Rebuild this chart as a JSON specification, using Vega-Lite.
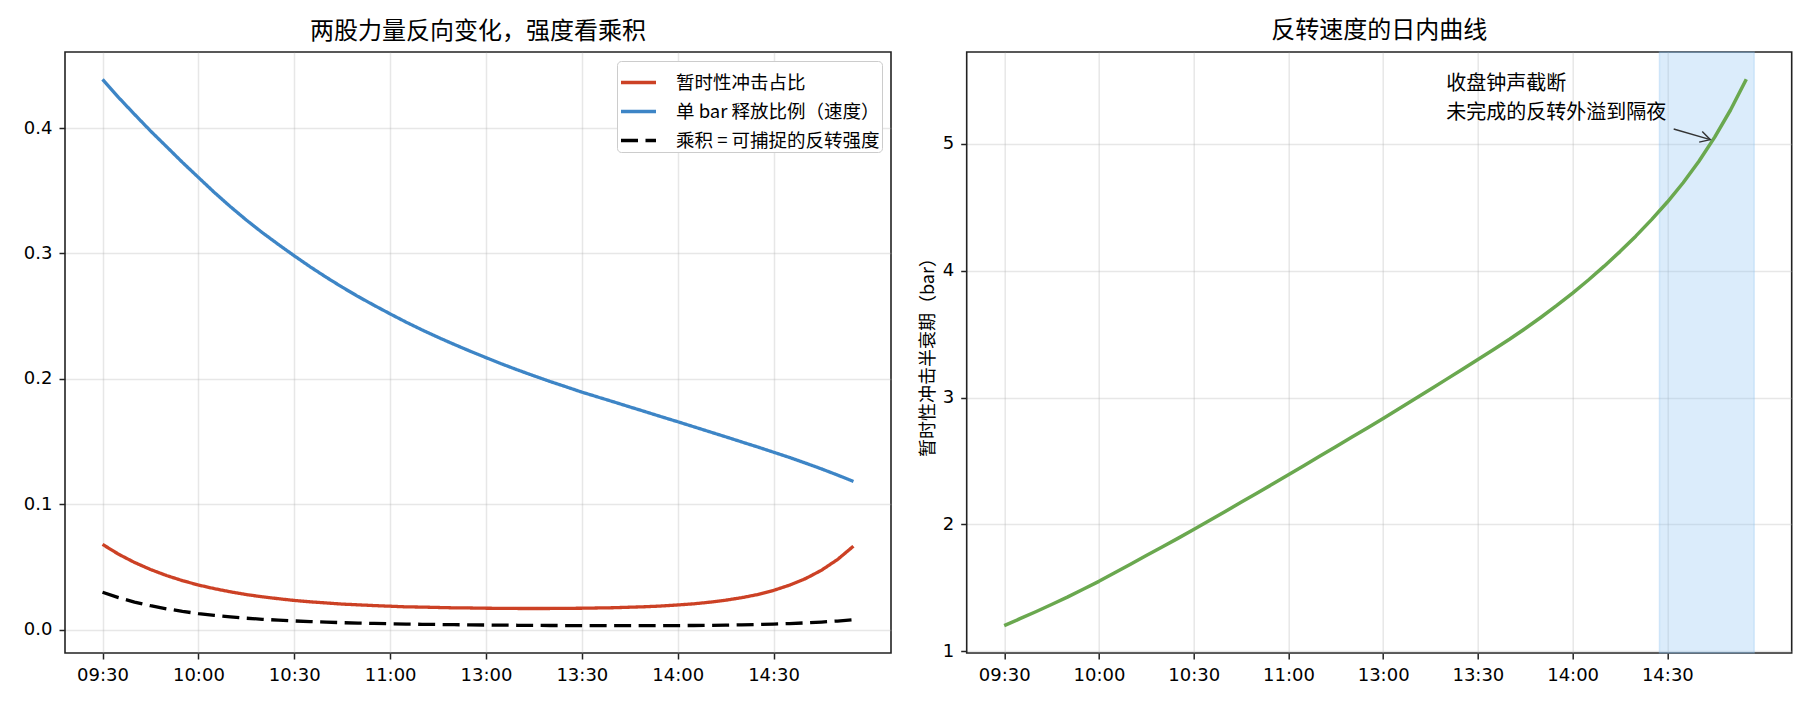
{
  "$schema": "https://vega.github.io/schema/vega-lite/v6.json",
  "background": "white",
  "padding": {"left": 22, "top": 18, "right": 20, "bottom": 10},
  "datasets": {
    "intraday": [
      {"i": 0, "r": 0.0680, "b": 0.4388, "p": 0.02984, "h": 1.200},
      {"i": 1, "r": 0.0602, "b": 0.4244, "p": 0.02555, "h": 1.255},
      {"i": 2, "r": 0.0536, "b": 0.4109, "p": 0.02202, "h": 1.310},
      {"i": 3, "r": 0.0480, "b": 0.3977, "p": 0.01909, "h": 1.367},
      {"i": 4, "r": 0.0432, "b": 0.3852, "p": 0.01664, "h": 1.425},
      {"i": 5, "r": 0.0391, "b": 0.3726, "p": 0.01457, "h": 1.487},
      {"i": 6, "r": 0.0356, "b": 0.3606, "p": 0.01284, "h": 1.550},
      {"i": 7, "r": 0.0327, "b": 0.3486, "p": 0.01140, "h": 1.617},
      {"i": 8, "r": 0.0302, "b": 0.3373, "p": 0.01019, "h": 1.685},
      {"i": 9, "r": 0.0280, "b": 0.3266, "p": 0.00914, "h": 1.753},
      {"i": 10, "r": 0.0262, "b": 0.3166, "p": 0.00829, "h": 1.821},
      {"i": 11, "r": 0.0247, "b": 0.3072, "p": 0.00759, "h": 1.889},
      {"i": 12, "r": 0.0233, "b": 0.2981, "p": 0.00695, "h": 1.958},
      {"i": 13, "r": 0.0222, "b": 0.2893, "p": 0.00642, "h": 2.030},
      {"i": 14, "r": 0.0213, "b": 0.2810, "p": 0.00599, "h": 2.101},
      {"i": 15, "r": 0.0204, "b": 0.2731, "p": 0.00557, "h": 2.173},
      {"i": 16, "r": 0.0198, "b": 0.2656, "p": 0.00526, "h": 2.245},
      {"i": 17, "r": 0.0192, "b": 0.2586, "p": 0.00497, "h": 2.317},
      {"i": 18, "r": 0.0187, "b": 0.2518, "p": 0.00471, "h": 2.390},
      {"i": 19, "r": 0.0182, "b": 0.2452, "p": 0.00446, "h": 2.464},
      {"i": 20, "r": 0.0180, "b": 0.2390, "p": 0.00430, "h": 2.538},
      {"i": 21, "r": 0.0177, "b": 0.2331, "p": 0.00413, "h": 2.612},
      {"i": 22, "r": 0.0174, "b": 0.2275, "p": 0.00396, "h": 2.686},
      {"i": 23, "r": 0.0173, "b": 0.2221, "p": 0.00384, "h": 2.760},
      {"i": 24, "r": 0.0171, "b": 0.2169, "p": 0.00371, "h": 2.835},
      {"i": 25, "r": 0.0170, "b": 0.2118, "p": 0.00360, "h": 2.911},
      {"i": 26, "r": 0.0169, "b": 0.2070, "p": 0.00350, "h": 2.988},
      {"i": 27, "r": 0.0169, "b": 0.2024, "p": 0.00342, "h": 3.065},
      {"i": 28, "r": 0.0169, "b": 0.1979, "p": 0.00334, "h": 3.143},
      {"i": 29, "r": 0.0170, "b": 0.1937, "p": 0.00329, "h": 3.221},
      {"i": 30, "r": 0.0171, "b": 0.1894, "p": 0.00324, "h": 3.300},
      {"i": 31, "r": 0.0173, "b": 0.1855, "p": 0.00321, "h": 3.378},
      {"i": 32, "r": 0.0175, "b": 0.1816, "p": 0.00318, "h": 3.459},
      {"i": 33, "r": 0.0179, "b": 0.1776, "p": 0.00318, "h": 3.544},
      {"i": 34, "r": 0.0183, "b": 0.1737, "p": 0.00318, "h": 3.633},
      {"i": 35, "r": 0.0189, "b": 0.1697, "p": 0.00321, "h": 3.726},
      {"i": 36, "r": 0.0197, "b": 0.1658, "p": 0.00327, "h": 3.824},
      {"i": 37, "r": 0.0206, "b": 0.1618, "p": 0.00333, "h": 3.927},
      {"i": 38, "r": 0.0219, "b": 0.1578, "p": 0.00346, "h": 4.036},
      {"i": 39, "r": 0.0235, "b": 0.1538, "p": 0.00361, "h": 4.151},
      {"i": 40, "r": 0.0255, "b": 0.1497, "p": 0.00382, "h": 4.273},
      {"i": 41, "r": 0.0280, "b": 0.1457, "p": 0.00408, "h": 4.403},
      {"i": 42, "r": 0.0313, "b": 0.1415, "p": 0.00443, "h": 4.542},
      {"i": 43, "r": 0.0355, "b": 0.1373, "p": 0.00487, "h": 4.694},
      {"i": 44, "r": 0.0407, "b": 0.1328, "p": 0.00540, "h": 4.864},
      {"i": 45, "r": 0.0474, "b": 0.1282, "p": 0.00608, "h": 5.054},
      {"i": 46, "r": 0.0559, "b": 0.1233, "p": 0.00689, "h": 5.268},
      {"i": 47, "r": 0.0666, "b": 0.1182, "p": 0.00787, "h": 5.510}
    ],
    "span": [{"x1": 41.5, "x2": 47.5}],
    "note": [{"x": 28, "y": 5.55, "t": "收盘钟声截断\n未完成的反转外溢到隔夜"}],
    "arrow": [{"x1": 42.4, "y1": 5.118, "x2": 44.72, "y2": 5.034}]
  },
  "bounds": "flush",
  "spacing": 75.7,
  "resolve": {"legend": {"color": "independent", "strokeDash": "independent", "strokeWidth": "independent"}},
  "hconcat": [
    {
      "width": 826,
      "height": 601,
      "title": "两股力量反向变化，强度看乘积",
      "data": {"name": "intraday"},
      "transform": [{"fold": ["r", "b", "p"], "as": ["series", "value"]}],
      "mark": {"type": "line", "strokeJoin": "round"},
      "encoding": {
        "x": {
          "field": "i",
          "type": "quantitative",
          "scale": {"domain": [-2.35, 49.35], "nice": false, "zero": false},
          "axis": {
            "title": null,
            "values": [0, 6, 12, 18, 24, 30, 36, 42],
            "labelExpr": "datum.value == 0 ? '09:30' : datum.value == 6 ? '10:00' : datum.value == 12 ? '10:30' : datum.value == 18 ? '11:00' : datum.value == 24 ? '13:00' : datum.value == 30 ? '13:30' : datum.value == 36 ? '14:00' : '14:30'"
          }
        },
        "y": {
          "field": "value",
          "type": "quantitative",
          "scale": {"domain": [-0.0186, 0.4606], "nice": false, "zero": false},
          "axis": {"title": null, "values": [0, 0.1, 0.2, 0.3, 0.4], "format": ".1f"}
        },
        "color": {
          "field": "series",
          "type": "nominal",
          "scale": {"domain": ["r", "b", "p"], "range": ["#cc4125", "#3d85c6", "#000000"]},
          "legend": {
            "title": null,
            "orient": "top-right",
            "labelExpr": "datum.value == 'r' ? '暂时性冲击占比' : datum.value == 'b' ? '单 bar 释放比例（速度）' : '乘积 = 可捕捉的反转强度'"
          }
        },
        "strokeDash": {
          "field": "series",
          "type": "nominal",
          "scale": {"domain": ["r", "b", "p"], "range": [[1, 0], [1, 0], [17, 7.5]]},
          "legend": {
            "title": null,
            "orient": "top-right",
            "labelExpr": "datum.value == 'r' ? '暂时性冲击占比' : datum.value == 'b' ? '单 bar 释放比例（速度）' : '乘积 = 可捕捉的反转强度'"
          }
        },
        "strokeWidth": {
          "field": "series",
          "type": "nominal",
          "scale": {"domain": ["r", "b", "p"], "range": [3.3, 3.3, 4.7]},
          "legend": {
            "title": null,
            "orient": "top-right",
            "labelExpr": "datum.value == 'r' ? '暂时性冲击占比' : datum.value == 'b' ? '单 bar 释放比例（速度）' : '乘积 = 可捕捉的反转强度'"
          }
        }
      }
    },
    {
      "width": 825,
      "height": 601,
      "title": "反转速度的日内曲线",
      "layer": [
        {
          "data": {"name": "span"},
          "mark": {"type": "rect", "fill": "#87c0f2", "fillOpacity": 0.3, "stroke": "#87c0f2", "strokeOpacity": 0.3, "strokeWidth": 1.5},
          "encoding": {
            "x": {"field": "x1", "type": "quantitative", "scale": {"domain": [-2.375, 49.875], "nice": false, "zero": false}},
            "x2": {"field": "x2"}
          }
        },
        {
          "data": {"name": "intraday"},
          "mark": {"type": "line", "color": "#6aa84f", "strokeWidth": 3.5, "strokeJoin": "round"},
          "encoding": {
            "x": {
              "field": "i",
              "type": "quantitative",
              "scale": {"domain": [-2.375, 49.875], "nice": false, "zero": false},
              "axis": {
                "title": null,
                "values": [0, 6, 12, 18, 24, 30, 36, 42],
                "labelExpr": "datum.value == 0 ? '09:30' : datum.value == 6 ? '10:00' : datum.value == 12 ? '10:30' : datum.value == 18 ? '11:00' : datum.value == 24 ? '13:00' : datum.value == 30 ? '13:30' : datum.value == 36 ? '14:00' : '14:30'"
              }
            },
            "y": {
              "field": "h",
              "type": "quantitative",
              "scale": {"domain": [0.9845, 5.7255], "nice": false, "zero": false},
              "axis": {"title": "暂时性冲击半衰期（bar）", "values": [1, 2, 3, 4, 5], "format": "d", "titlePadding": 5}
            }
          }
        },
        {
          "data": {"name": "note"},
          "mark": {"type": "text", "align": "left", "baseline": "top", "fontSize": 20, "lineHeight": 28.7, "lineBreak": "\n", "color": "#000"},
          "encoding": {
            "x": {"field": "x", "type": "quantitative"},
            "y": {"field": "y", "type": "quantitative"},
            "text": {"field": "t"}
          }
        },
        {
          "data": {"name": "arrow"},
          "mark": {"type": "rule", "color": "#333333", "strokeWidth": 1.4},
          "encoding": {
            "x": {"field": "x1", "type": "quantitative"},
            "y": {"field": "y1", "type": "quantitative"},
            "x2": {"field": "x2"},
            "y2": {"field": "y2"}
          }
        },
        {
          "data": {"name": "arrow"},
          "mark": {"type": "point", "shape": "M-1,-0.55L0,0L-1,0.55", "filled": false, "stroke": "#333333", "strokeWidth": 1.4, "size": 400, "angle": 16.3, "opacity": 1},
          "encoding": {
            "x": {"field": "x2", "type": "quantitative"},
            "y": {"field": "y2", "type": "quantitative"}
          }
        }
      ]
    }
  ],
  "config": {
    "font": "Noto Sans CJK SC",
    "view": {"stroke": "#222222", "strokeWidth": 1.6},
    "axis": {
      "domain": false,
      "grid": true,
      "gridColor": "#b0b0b0",
      "gridOpacity": 0.3,
      "gridWidth": 1.5,
      "tickColor": "#222222",
      "tickSize": 6,
      "tickWidth": 1.5,
      "labelFont": "DejaVu Sans",
      "labelFontSize": 18,
      "labelColor": "#000000",
      "labelPadding": 7,
      "labelOverlap": false,
      "labelFlush": false,
      "titleFont": "Noto Sans CJK SC",
      "titleFontSize": 18,
      "titleFontWeight": "normal",
      "titleColor": "#000000"
    },
    "title": {"font": "Noto Sans CJK SC", "fontSize": 24, "fontWeight": "normal", "color": "#000000", "offset": 8},
    "legend": {
      "offset": 9,
      "padding": 2,
      "fillColor": "#ffffff",
      "strokeColor": "#cccccc",
      "cornerRadius": 4,
      "symbolType": "stroke",
      "symbolSize": 1225,
      "labelFont": "Noto Sans CJK SC",
      "labelFontSize": 18.5,
      "labelColor": "#000000",
      "labelLimit": 400,
      "labelOffset": 18,
      "rowPadding": -6
    }
  }
}
